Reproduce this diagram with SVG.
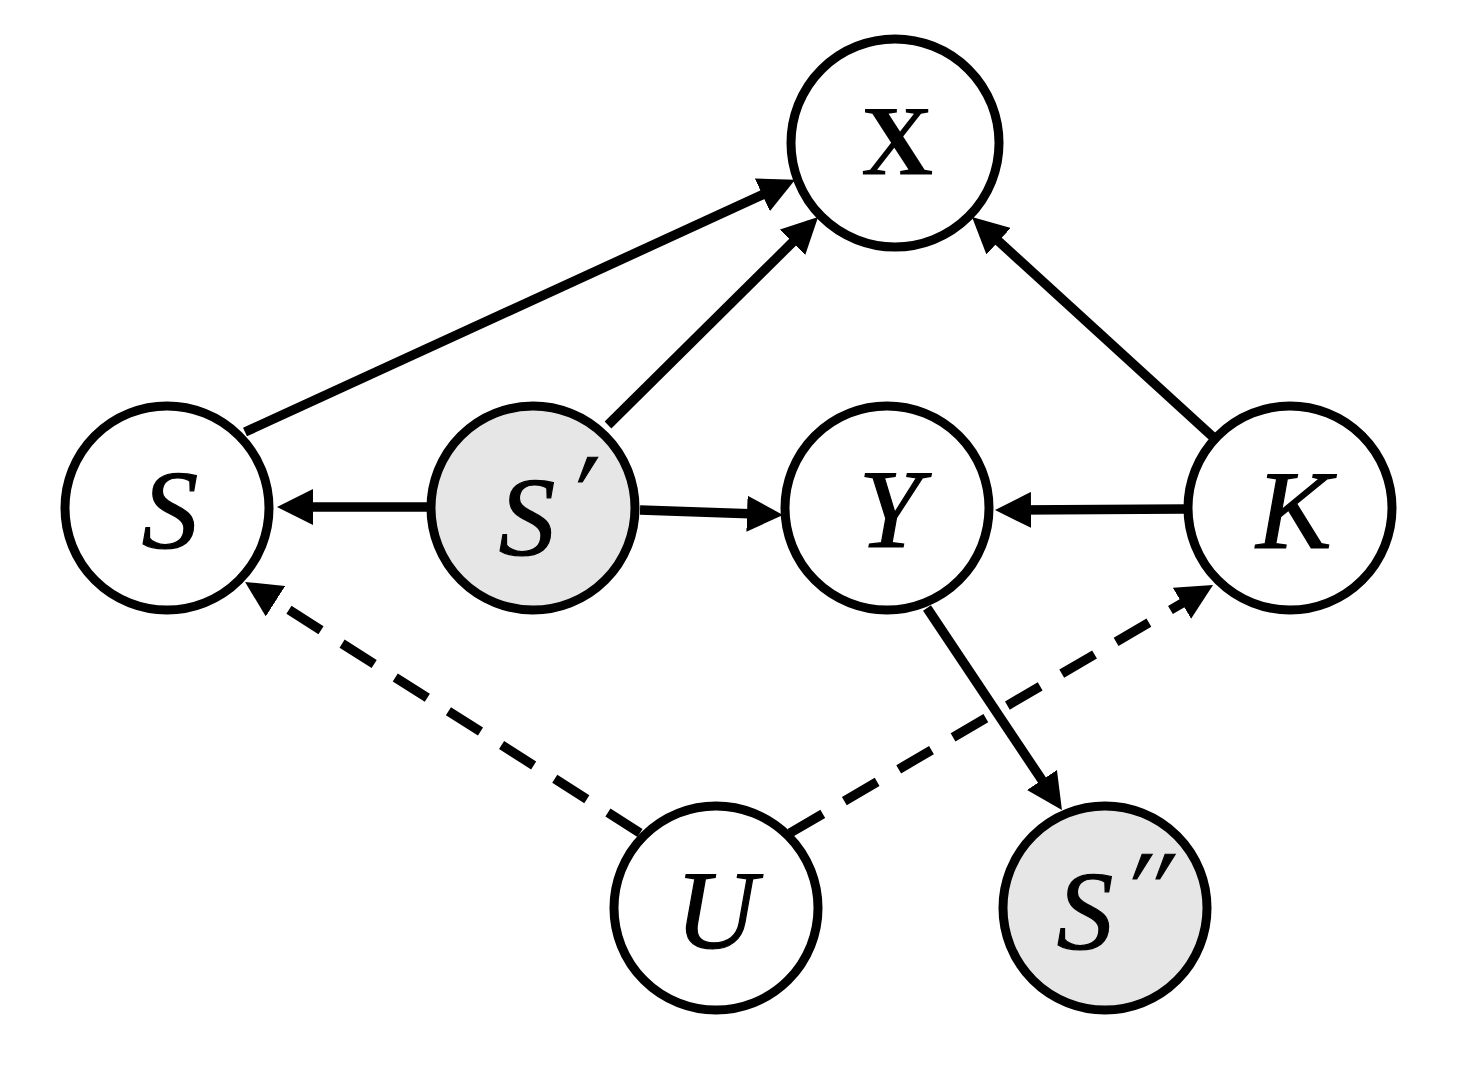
<svg xmlns="http://www.w3.org/2000/svg" width="1483" height="1072" viewBox="0 0 1483 1072">
<style>
.node{stroke:#000;stroke-width:9;fill:#fff}
.obs{fill:#e6e6e6}
.edge{stroke:#000;stroke-width:9.5;fill:none}
.dash{stroke-dasharray:38 25}
</style>
<defs>
<marker id="ah" markerUnits="userSpaceOnUse" markerWidth="36" markerHeight="36" viewBox="0 0 36 36" refX="26" refY="18" orient="auto">
<path d="M0,0 L36,18 L0,36 z" fill="#000"/>
</marker>
</defs>
<g id="edges">
<line class="edge" x1="245" y1="432" x2="786" y2="184" marker-end="url(#ah)"/>
<line class="edge" x1="608" y1="425" x2="811" y2="224" marker-end="url(#ah)"/>
<line class="edge" x1="1213" y1="437" x2="979.4" y2="223.7" marker-end="url(#ah)"/>
<line class="edge" x1="428" y1="507" x2="287" y2="507" marker-end="url(#ah)"/>
<line class="edge" x1="640" y1="510" x2="773" y2="514.6" marker-end="url(#ah)"/>
<line class="edge" x1="1185" y1="509" x2="1005" y2="510" marker-end="url(#ah)"/>
<line class="edge" x1="927" y1="608" x2="1056.4" y2="801.7" marker-end="url(#ah)"/>
<line class="edge dash" x1="640" y1="833" x2="253.5" y2="587.3" marker-end="url(#ah)"/>
<line class="edge dash" x1="790" y1="833" x2="1204.4" y2="590.1" marker-end="url(#ah)"/>
</g>
<g id="node-X">
<circle class="node" cx="895" cy="143" r="104"/>
<text font-family="Liberation Serif" font-weight="bold" font-size="100" text-anchor="middle" x="897" y="174">X</text>
</g>
<g id="node-S">
<circle class="node" cx="167" cy="508" r="102"/>
<text font-family="Liberation Serif" font-style="italic" font-size="113" text-anchor="middle" stroke="#000" stroke-width="1.2" x="170" y="548">S</text>
</g>
<g id="node-Sp">
<circle class="node obs" cx="533" cy="508" r="102"/>
<text font-family="Liberation Serif" font-style="italic" font-size="113" text-anchor="middle" stroke="#000" stroke-width="1.2" x="527" y="555">S</text>
<text font-family="Liberation Serif" font-size="105" text-anchor="middle" stroke="#000" stroke-width="1.2" transform="translate(573,526) skewX(-15)">′</text>
</g>
<g id="node-Y">
<circle class="node" cx="887" cy="508" r="102"/>
<text font-family="Liberation Serif" font-style="italic" font-size="113" text-anchor="middle" stroke="#000" stroke-width="1.2" x="890" y="547">Y</text>
</g>
<g id="node-K">
<circle class="node" cx="1290" cy="508" r="102"/>
<text font-family="Liberation Serif" font-style="italic" font-size="113" text-anchor="middle" stroke="#000" stroke-width="1.2" x="1294" y="548">K</text>
</g>
<g id="node-U">
<circle class="node" cx="716" cy="908" r="102"/>
<text font-family="Liberation Serif" font-style="italic" font-size="113" text-anchor="middle" stroke="#000" stroke-width="1.2" x="716" y="948">U</text>
</g>
<g id="node-Spp">
<circle class="node obs" cx="1105" cy="908" r="102"/>
<text font-family="Liberation Serif" font-style="italic" font-size="113" text-anchor="middle" stroke="#000" stroke-width="1.2" x="1085" y="949">S</text>
<text font-family="Liberation Serif" font-size="105" text-anchor="middle" stroke="#000" stroke-width="1.2" transform="translate(1139,923) skewX(-15)">′′</text>
</g>
</svg>
